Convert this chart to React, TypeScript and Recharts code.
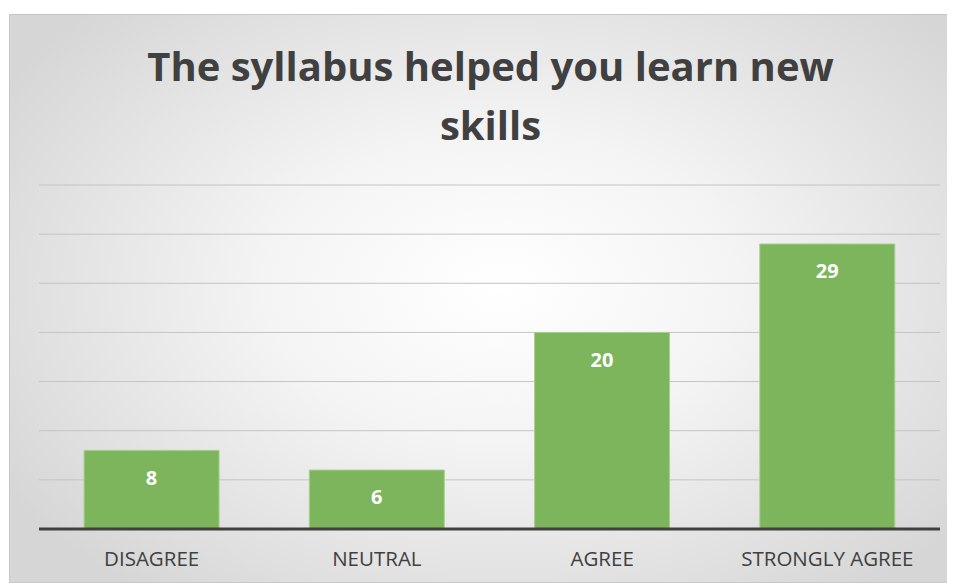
import React from 'react';
import { BarChart, Bar, XAxis, YAxis, CartesianGrid, LabelList } from 'recharts';

const categories = ['DISAGREE', 'NEUTRAL', 'AGREE', 'STRONGLY AGREE'];
const counts = [8, 6, 20, 29];
const yTicks = [0, 5, 10, 15, 20, 25, 30, 35];

const data = categories.map((c, i) => ({ name: c, value: counts[i] }));

const FONT = '"Open Sans", "Liberation Sans", sans-serif';

export default function App() {
  return (
    <div
      style={{
        position: 'relative',
        marginTop: 6,
        marginLeft: 1,
        width: 946,
        height: 569,
        boxSizing: 'border-box',
        border: '1px solid #c8c8c8',
        background: 'radial-gradient(ellipse 62% 68% at 52% 48%, #ffffff 0%, #f4f4f4 40%, #d6d6d6 100%)',
        fontFamily: FONT,
      }}
    >
      <div
        style={{
          position: 'absolute',
          left: 30,
          width: 901,
          top: 21,
          textAlign: 'center',
          fontSize: 40,
          fontWeight: 700,
          lineHeight: '59px',
          color: '#404040',
        }}
      >
        The syllabus helped you learn new
        <br />
        skills
      </div>
      <BarChart
        width={944}
        height={567}
        data={data}
        margin={{ top: 170, right: 14, left: 29, bottom: 0 }}
        barCategoryGap="20%"
        style={{ position: 'absolute', left: 0, top: 0 }}
      >
        <CartesianGrid vertical={false} stroke="#c4c4c4" strokeWidth={1} />
        <YAxis hide domain={[0, 35]} ticks={yTicks} />
        <XAxis
          dataKey="name"
          height={53}
          tickLine={false}
          tickMargin={16}
          axisLine={{ stroke: '#404040', strokeWidth: 3 }}
          tick={{ fill: '#404040', fontSize: 20.5, fontFamily: FONT }}
          interval={0}
        />
        <Bar dataKey="value" fill="#7db55c" stroke="#a8d08d" strokeWidth={1} isAnimationActive={false}>
          <LabelList
            dataKey="value"
            position="insideTop"
            offset={20}
            fill="#ffffff"
            fontSize={20}
            fontWeight={700}
            fontFamily={FONT}
          />
        </Bar>
      </BarChart>
    </div>
  );
}
